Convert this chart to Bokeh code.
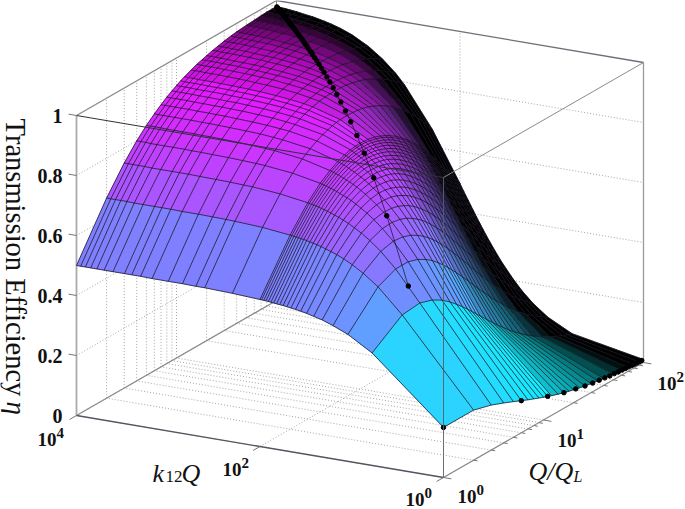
from math import log10, hypot
from bokeh.plotting import figure
from bokeh.models import Range1d, ColumnDataSource
from bokeh.core.properties import value
from bokeh.embed import file_html
from bokeh.resources import INLINE

K12Q = [1,6,11,16,21,26,31,36,41,46,51,56,61,66,71,76,81,86,91,96,100,200,400,500,700,1000,1500,2000,2500,3000,4000,5000,6000,7000,8000,9000,10000]
QQL = [1,2,3,4,5,6,7,8,9,10,11,12,14,16,18,20,23,26,30,35,40,50,60,70,80,90,100]
# efficiency (thousandths), one row per Q/QL value, read across k12Q
E1 = [167,375,423,444,457,464,470,474,477,479,481,483,484,485,486,487,488,489,489,490,490,495,498,498,499,499,499,500,500,500,500,500,500,500,500,500,500]
E2 = [167,444,524,561,583,598,608,615,621,626,630,633,635,638,640,641,643,644,645,646,647,657,662,663,664,665,665,666,666,666,666,666,667,667,667,667,667]
E3 = [150,450,550,600,630,650,664,675,683,690,695,700,704,707,710,713,715,717,718,720,721,735,743,744,746,747,748,749,749,749,749,749,750,750,750,750,750]
E4 = [133,436,550,610,646,671,689,702,713,722,729,734,739,744,747,751,753,756,758,760,762,780,790,792,794,796,797,798,798,799,799,799,799,799,800,800,800]
E5 = [119,417,539,606,648,677,698,714,727,737,746,753,759,764,768,772,776,779,782,784,786,809,821,823,826,828,830,831,831,832,832,832,832,833,833,833,833]
E6 = [107,396,524,596,643,675,699,718,732,744,754,762,769,775,780,785,789,793,796,799,801,828,842,845,849,851,853,854,855,855,856,856,856,856,856,856,856]
E7 = [97,375,507,583,634,669,696,716,732,745,756,766,774,780,786,792,796,801,804,808,810,841,858,861,865,868,870,872,872,873,873,874,874,874,874,874,874]
E8 = [89,356,489,569,622,660,689,711,729,743,756,766,775,782,789,795,800,805,809,813,816,851,869,873,878,881,884,885,886,886,887,887,888,888,888,888,888]
E9 = [82,338,471,554,610,650,680,704,724,739,752,764,773,782,789,795,801,806,811,815,818,857,878,882,887,891,894,896,896,897,898,898,899,899,899,899,899]
E10 = [76,321,455,539,597,639,671,696,717,734,748,760,770,779,787,794,800,806,811,816,819,862,885,889,895,899,902,904,905,906,907,907,907,908,908,908,908]
E11 = [71,306,438,524,583,627,661,688,709,727,742,755,766,776,784,792,798,804,810,815,818,865,890,895,901,906,909,911,912,913,914,914,915,915,915,915,916]
E12 = [66,292,423,509,570,615,650,678,701,720,736,749,761,771,780,788,795,802,808,813,817,867,894,900,906,911,915,917,918,919,920,921,921,921,922,922,922]
E14 = [58,267,395,482,544,592,629,659,683,704,721,736,749,760,771,779,788,795,801,807,812,868,900,906,914,920,924,926,928,929,930,931,931,931,932,932,932]
E16 = [52,246,370,456,520,569,608,639,665,687,706,722,736,748,759,769,778,786,793,800,804,867,903,910,919,925,931,933,935,936,937,938,939,939,939,939,940]
E18 = [47,227,347,433,497,547,587,620,647,670,690,707,722,736,747,758,767,776,784,791,796,865,904,913,922,930,935,938,940,941,943,944,944,945,945,945,945]
E20 = [43,212,327,412,476,527,568,602,630,654,675,693,709,723,735,746,756,765,774,781,787,862,905,914,925,933,939,942,945,946,947,948,949,950,950,950,950]
E23 = [38,192,301,383,447,498,540,575,604,630,652,671,688,703,716,728,739,749,758,767,773,856,904,914,927,936,943,947,949,951,953,954,955,955,955,956,956]
E26 = [34,175,279,358,421,472,515,550,581,607,630,650,668,683,698,711,722,733,743,752,758,848,902,914,927,938,946,950,953,954,956,958,959,959,960,960,960]
E30 = [30,157,253,329,391,441,484,520,551,578,602,623,642,658,674,687,700,711,722,732,739,838,898,911,927,939,948,953,956,958,960,962,963,964,964,964,965]
E35 = [26,139,228,299,358,408,450,486,518,545,570,592,611,629,645,660,673,685,697,707,715,824,892,907,925,938,949,955,958,961,964,965,966,967,968,968,969]
E40 = [23,125,206,274,330,379,420,456,488,516,541,563,583,602,618,634,648,661,673,684,692,810,885,902,922,937,950,956,960,962,966,968,969,970,971,971,972]
E50 = [19,103,174,234,286,331,371,406,437,465,490,513,534,553,571,587,602,615,628,640,649,781,869,890,914,933,948,956,961,964,968,970,972,973,974,975,975]
E60 = [16,88,150,204,252,294,331,365,395,423,448,471,492,511,529,546,561,575,589,601,611,754,853,877,905,927,945,954,960,964,969,972,974,975,976,977,977]
E70 = [14,77,132,181,225,264,300,332,361,388,412,435,456,475,493,510,525,540,554,567,577,728,837,863,895,921,941,952,959,963,969,972,974,976,977,978,979]
E80 = [12,68,118,163,203,240,273,304,332,358,382,404,424,443,461,478,494,509,523,536,546,703,821,850,885,914,937,949,957,962,968,972,975,976,978,979,980]
E90 = [11,61,107,148,185,220,251,280,307,332,355,377,397,416,433,450,466,481,495,508,518,680,806,837,875,906,932,946,954,960,967,971,974,976,978,979,980]
E100 = [10,56,97,135,170,203,233,260,286,310,332,353,373,391,409,425,441,455,469,482,493,658,790,824,865,899,928,943,952,958,966,970,974,976,978,979,980]
ETA = [E1,E2,E3,E4,E5,E6,E7,E8,E9,E10,E11,E12,E14,E16,E18,E20,E23,E26,E30,E35,E40,E50,E60,E70,E80,E90,E100]

# optimum-load dots
OPT_Q = [3,5,7,9,11,13,15,17,19,21,23,25,27,29,31,33,35,37,39,41,43,45,47,49,51,53,55,57,59,61,63,65,67,69,71,73,75,77,79,81,83,85,87,89,91,93,95,97,99]
OPT_K = [8,24,48,80,120,168,224,288,360,440,528,624,728,840,960,1088,1224,1368,1520,1680,1848,2024,2208,2400,2600,2808,3024,3248,3480,3720,3968,4224,4488,4760,5040,5328,5624,5928,6240,6560,6888,7224,7568,7920,8280,8648,9024,9408,9800]
OPT_E = [.5,.667,.75,.8,.833,.857,.875,.889,.9,.909,.917,.923,.929,.933,.9375,.941,.944,.947,.95,.952,.955,.957,.958,.96,.962,.963,.964,.966,.967,.968,.969,.97,.971,.971,.972,.973,.974,.974,.975,.976,.976,.977,.977,.978,.978,.979,.979,.979,.98]
EDGE_Q = [1,6,11,16,21,26,31,36,41,46,51,56,61,66,71,76,81,86,91,96]
EDGE_E = [.167,.107,.071,.052,.042,.034,.029,.026,.023,.02,.019,.017,.016,.015,.014,.013,.012,.011,.011,.01]

Z_TICKS = [0,.2,.4,.6,.8,1]
Z_LABELS = ["0","0.2","0.4","0.6","0.8","1"]
K_TICKS = [1,100,10000]
Q_TICKS = [1,2,3,4,5,6,7,8,9,10,20,30,40,50,60,70,80,90,100]

# parallel projection of the 3-D box onto the page
ORG = (443.0, 477.0)
UV = (-367.0, -62.0)
VV = (200.0, -115.0)
ZV = 300.0
LINE_W = 0.42   # the drawn width that one hidden mesh line darkens a cell by

def proj(k, q, z):
    u, v = log10(k) / 4, log10(q) / 2
    return ORG[0] + UV[0]*u + VV[0]*v, ORG[1] + UV[1]*u + VV[1]*v - ZV*z

p = figure(width=685, height=509, x_range=Range1d(0, 685), y_range=Range1d(509, 0),
           output_backend="svg", toolbar_location=None, min_border=0,
           margin=(0, 0, 0, 0), background_fill_color="white", border_fill_color="white")
p.axis.visible = False
p.grid.visible = False
p.outline_line_color = None

def seg(a, b, color, width=1.0, dash="solid"):
    p.line([a[0], b[0]], [a[1], b[1]], line_color=color, line_width=width, line_dash=dash)

KMIN, KMAX, QMIN, QMAX = 1, 10000, 1, 100
GRID = "#8f8f8f"
DOT = "1 2"
# back walls and floor grid
for q in Q_TICKS:
    seg(proj(KMIN, q, 0), proj(KMAX, q, 0), GRID, .8, DOT)
    seg(proj(KMAX, q, 0), proj(KMAX, q, 1), GRID, .8, DOT)
for k in K_TICKS:
    seg(proj(k, QMIN, 0), proj(k, QMAX, 0), GRID, .8, DOT)
    seg(proj(k, QMAX, 0), proj(k, QMAX, 1), GRID, .8, DOT)
for z in Z_TICKS[1:-1]:
    seg(proj(KMAX, QMIN, z), proj(KMAX, QMAX, z), GRID, .8, DOT)
    seg(proj(KMAX, QMAX, z), proj(KMIN, QMAX, z), GRID, .8, DOT)
seg(proj(KMAX, QMIN, 0), proj(KMAX, QMAX, 0), "#8a8a8a", 1.2)
seg(proj(KMAX, QMAX, 0), proj(KMIN, QMAX, 0), "#8a8a8a", 1.0)
seg(proj(KMAX, QMAX, 0), proj(KMAX, QMAX, 1), "#8a8a8a", 1.0)
seg(proj(KMAX, QMIN, 1), proj(KMAX, QMAX, 1), "#8a8a8a", 1.3)
seg(proj(KMAX, QMAX, 1), proj(KMIN, QMAX, 1), "#6f6f7a", 1.3)
seg(proj(KMIN, QMAX, 0), proj(KMIN, QMAX, 1), "#9a9a9a", 1.3)
seg(proj(KMAX, QMIN, 0), proj(KMAX, QMIN, 1), "#aaaaaa", 1.8)
seg(proj(KMAX, QMIN, 0), proj(KMIN, QMIN, 0), "#555560", 1.3)
seg(proj(KMIN, QMIN, 0), proj(KMIN, QMAX, 0), "#8a8a8a", 1.2)

# surface: flat cells coloured by their lower corner, darkened where the mesh is fine
xs, ys, cols = [], [], []
for j in range(len(QQL)-2, -1, -1):
    for i in range(len(K12Q)-2, -1, -1):
        corners = [(i, j), (i+1, j), (i+1, j+1), (i, j+1)]
        pts = [proj(K12Q[a], QQL[b], ETA[b][a]/1000) for a, b in corners]
        xs.append([c[0] for c in pts])
        ys.append([c[1] for c in pts])
        t = ETA[j][i]/1000
        area = abs(sum(pts[n][0]*pts[(n+1) % 4][1] - pts[(n+1) % 4][0]*pts[n][1] for n in range(4))) / 2
        along = (hypot(pts[1][0]-pts[0][0], pts[1][1]-pts[0][1]) + hypot(pts[2][0]-pts[3][0], pts[2][1]-pts[3][1])) / 2
        gap = QQL[j+1] - QQL[j]
        spacing = area / max(along, 1e-6) / gap
        cover = min(1.0, LINE_W / max(spacing, 1e-6)) if gap > 1 else 0.0
        r, g, b = 255*t*(1-cover), 255*(1-t)*(1-cover), 255*(1-cover)
        cols.append("#%02x%02x%02x" % (round(r), round(g), round(b)))
p.patches(xs, ys, fill_color=cols, line_color=cols, line_width=.4)

# mesh
mx, my, mw = [], [], []
for j, q in enumerate(QQL):
    pts = [proj(K12Q[i], q, ETA[j][i]/1000) for i in range(len(K12Q))]
    mx.append([c[0] for c in pts]); my.append([c[1] for c in pts])
    mw.append(.75)
for i, k in enumerate(K12Q):
    pts = [proj(k, QQL[j], ETA[j][i]/1000) for j in range(len(QQL))]
    mx.append([c[0] for c in pts]); my.append([c[1] for c in pts])
    mw.append(.75)
p.multi_line(xs="x", ys="y", line_width="w", line_color="#14101e",
             source=ColumnDataSource(dict(x=mx, y=my, w=mw)))

# dots
ox, oy = zip(*[proj(k, q, e) for k, q, e in zip(OPT_K, OPT_Q, OPT_E)])
p.line(list(ox), list(oy), line_color="black", line_width=.6)
p.scatter(list(ox), list(oy), size=4.5, color="black")
ex, ey = zip(*[proj(KMIN, q, e) for q, e in zip(EDGE_Q, EDGE_E)])
p.scatter(list(ex), list(ey), size=4.5, color="black")

# front box edges
seg(proj(KMAX, QMIN, 1), proj(KMIN, QMIN, 1), "#30303a", 1.0)
seg(proj(KMIN, QMAX, 1), proj(KMIN, QMIN, 1), "#8a8a8a", 1.0)
seg(proj(KMIN, QMIN, 0), proj(KMIN, QMIN, 1), "#55606a", .9)

# ticks
def tick(a, dx, dy, n=8.0):
    seg(a, (a[0]+dx*n, a[1]+dy*n), "#777777", 1.0)
ul = hypot(*UV); vl = hypot(*VV)
for z in Z_TICKS[1:]:
    tick(proj(KMAX, QMIN, z), UV[0]/ul, UV[1]/ul)
for k in K_TICKS:
    tick(proj(k, QMIN, 0), -VV[0]/vl, -VV[1]/vl)
for q in Q_TICKS:
    n = 8.0 if q in (1, 10, 100) else 4.0
    tick(proj(KMIN, q, 0), -UV[0]/ul, -UV[1]/ul, n)

FONT = value("Liberation Serif")
def label(x, y, txt, size, style="normal", align="left", base="middle", angle=0.0):
    p.text([x], [y], text=[txt], text_font=FONT, text_font_size=f"{size}px",
           text_font_style=style, text_align=align, text_baseline=base,
           angle=angle, text_color="#111111")

for z, s in zip(Z_TICKS, Z_LABELS):
    label(62, proj(KMAX, QMIN, z)[1], s, 20, "bold", "right")

POW = [(37, 439, "10", "4"), (222, 469, "10", "2"), (405, 499, "10", "0"),
       (457, 496, "10", "0"), (557, 440, "10", "1"), (657, 383, "10", "2")]
for x, y, b, e in POW:
    label(x, y, b, 19, "bold")
    label(x+19, y-7, e, 15, "bold")

label(15, 118, "Transmission Efficiency", 28.5, angle=-1.5708)
label(15, 401, "η", 27, "italic", angle=-1.5708)
label(152, 473, "k", 26, "italic")
label(165, 476, "12", 17)
label(181, 473, "Q", 26, "italic")
label(528, 471, "Q/Q", 26, "italic")
label(573, 476, "L", 16, "italic")

open("out.html", "w").write(file_html(p, INLINE))
